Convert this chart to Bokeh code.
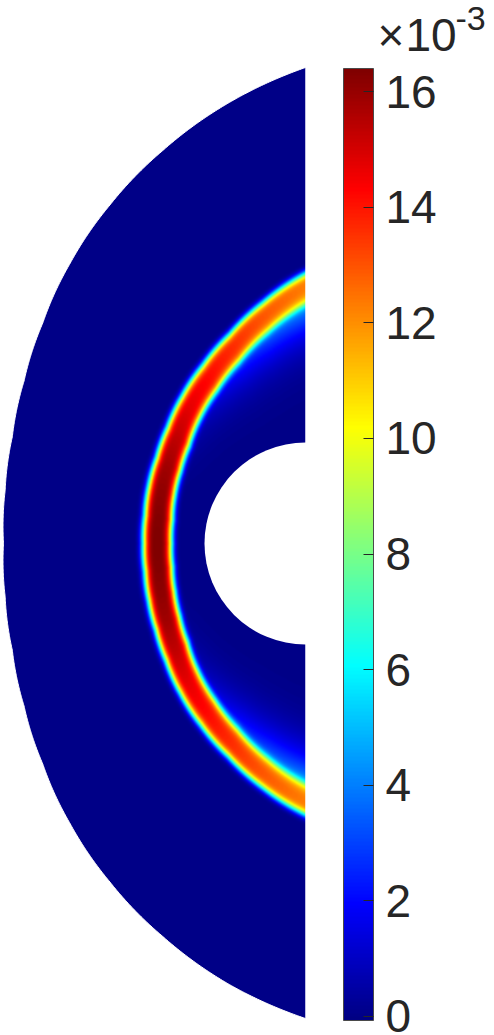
import numpy as np
from bokeh.plotting import figure
from bokeh.models import LinearColorMapper, ColorBar, FixedTicker, Range1d, Label
from bokeh.embed import file_html
from bokeh.resources import INLINE

# ---------------- data (lengths in reference pixels) -------------
# angle measured from the leftward direction (deg, + = up)
band_phi = [-90, -80, -70, -60, -50, -40, -30, -20, -10, 0, 10, 20, 30, 40, 50, 60, 70, 80, 90]
band_radius = [256, 233, 212, 195, 181, 168, 159, 153, 149, 148, 149, 153, 158, 166, 178, 191, 208, 230, 255]
band_peak = [12.3, 12.9, 13.6, 14.2, 14.7, 15.3, 15.8, 16.1, 16.3, 16.4, 16.3, 16.1, 15.8, 15.3, 14.7, 14.2, 13.6, 12.9, 12.3]
band_width_out = [17, 16.5, 16, 16, 15.5, 15.5, 15, 15, 15, 15, 15, 15, 15, 15.5, 15.5, 16, 16, 16.5, 17]
band_width_in = [17, 16.5, 16, 15.5, 15.5, 15.5, 15, 15, 15, 15, 15, 15, 15, 15.5, 15.5, 15.5, 16, 16.5, 17]
band_tail_frac = [0.5, 0.4, 0.28, 0.18, 0.1, 0.05, 0.02, 0, 0, 0, 0, 0, 0.02, 0.05, 0.1, 0.18, 0.28, 0.4, 0.5]
band_tail_len = [40, 36, 32, 28, 25, 22, 20, 20, 20, 20, 20, 20, 20, 22, 25, 28, 32, 36, 40]

# outer boundary of the half domain: radius per angle
outer_phi = [-90, -80, -70, -60, -50, -40, -30, -20, -10, 0, 10, 20, 30, 40, 50, 60, 70, 80, 90]
outer_radius = [475, 447, 418, 391, 366, 343, 325, 312, 305, 302, 305, 312, 325, 343, 366, 391, 418, 447, 476]
inner_radius = 101

# colour bar
tick_values = [0, 2, 4, 6, 8, 10, 12, 14, 16]
c_low, c_high = -0.07, 16.4
scale_base = "10"
scale_exp = "-3"

# ---------------- jet colormap (MATLAB definition) ----------------
def jet(n=256):
    m = int(np.ceil(n / 4))
    u = np.concatenate([np.arange(1, m + 1) / m, np.ones(m - 1), np.arange(m, 0, -1) / m])
    g = int(np.ceil(m / 2)) - (1 if n % 4 == 1 else 0) + np.arange(1, len(u) + 1)
    r = g + m
    b = g - m
    J = np.zeros((n, 3))
    for idx, ch in ((r, 0), (g, 1), (b, 2)):
        ok = (idx >= 1) & (idx <= n)
        J[idx[ok] - 1, ch] = u[ok]
    return ["#%02x%02x%02x" % tuple(int(round(v * 255)) for v in row) for row in J]

palette = jet(256)

# ---------------- field ----------------
step = 1.0
x0, y0, w, h = -306, -477, 306, 954
xs = np.arange(x0 + step / 2, 0, step)
ys = np.arange(y0 + step / 2, y0 + h, step)
X, Y = np.meshgrid(xs, ys)
R = np.hypot(X, Y)
PHI = np.degrees(np.arctan2(Y, -X))
Rb = np.interp(PHI, band_phi, band_radius)
A = np.interp(PHI, band_phi, band_peak)
so = np.interp(PHI, band_phi, band_width_out)
si = np.interp(PHI, band_phi, band_width_in)
tf = np.interp(PHI, band_phi, band_tail_frac)
tl = np.interp(PHI, band_phi, band_tail_len)
d = R - Rb
u = np.abs(d)
outer_side = A * np.exp(-(u / so) ** 4)
inner_side = A * ((1 - tf) * np.exp(-(u / si) ** 4) + tf * np.exp(-(u / tl) ** 1.5))
F = np.where(d >= 0, outer_side, inner_side)
# outside of the domain -> no colour
R_out = np.interp(PHI, outer_phi, outer_radius)
F = np.where((R > R_out + 2) | (R < inner_radius - 2), np.nan, F)

mapper = LinearColorMapper(palette=palette, low=c_low, high=c_high, nan_color="white")

W, H = 494, 1035
p = figure(width=W, height=H, x_range=Range1d(-305, W - 305), y_range=Range1d(543 - H, 543),
           output_backend="svg", toolbar_location=None, min_border=0,
           x_axis_location=None, y_axis_location=None)
p.grid.visible = False
p.outline_line_color = None
p.background_fill_color = "white"
p.border_fill_color = "white"

p.image(image=[F], x=x0, y=y0, dw=w, dh=h, color_mapper=mapper)

# crisp white mask outside the outer boundary (boundary traced in polar coordinates)
phi_fine = np.linspace(90, -90, 721)
r_fine = np.interp(phi_fine, outer_phi, outer_radius)
bx = list(-r_fine * np.cos(np.radians(phi_fine)))
by = list(r_fine * np.sin(np.radians(phi_fine)))
mask_x = [2, -340, -340, 2] + bx[::-1]
mask_y = [560, 560, -520, -520] + by[::-1]
p.patch(mask_x, mask_y, fill_color="white", line_color="white", line_width=1)
# strip right of the symmetry axis
p.quad(left=0, right=3, bottom=-520, top=560, fill_color="white", line_color=None)
# inner hole
p.ellipse(x=0, y=0, width=2 * inner_radius, height=2 * inner_radius,
          fill_color="white", line_color=None)

cb = ColorBar(color_mapper=mapper, ticker=FixedTicker(ticks=tick_values),
              location=(343, 15), width=30, height=952, padding=0, margin=0,
              major_label_text_font="Liberation Sans", major_label_text_font_size="46px",
              major_label_text_color="#262626", label_standoff=12,
              major_tick_in=10, major_tick_out=0, major_tick_line_color="#262626",
              minor_tick_line_color=None, bar_line_color="#4a4a4a", bar_line_width=1,
              background_fill_alpha=0, border_line_color=None)
p.add_layout(cb)

font = "Liberation Sans"
p.add_layout(Label(x=377 - 305, y=543 - 34, text="×", text_font=font, text_font_size="46px",
                   text_color="#262626", text_baseline="middle"))
p.add_layout(Label(x=405 - 305, y=543 - 34, text=scale_base, text_font=font, text_font_size="46px",
                   text_color="#262626", text_baseline="middle"))
p.add_layout(Label(x=455 - 305, y=543 - 18, text=scale_exp, text_font=font, text_font_size="34px",
                   text_color="#262626", text_baseline="middle"))

open("out.html", "w").write(file_html(p, INLINE))
